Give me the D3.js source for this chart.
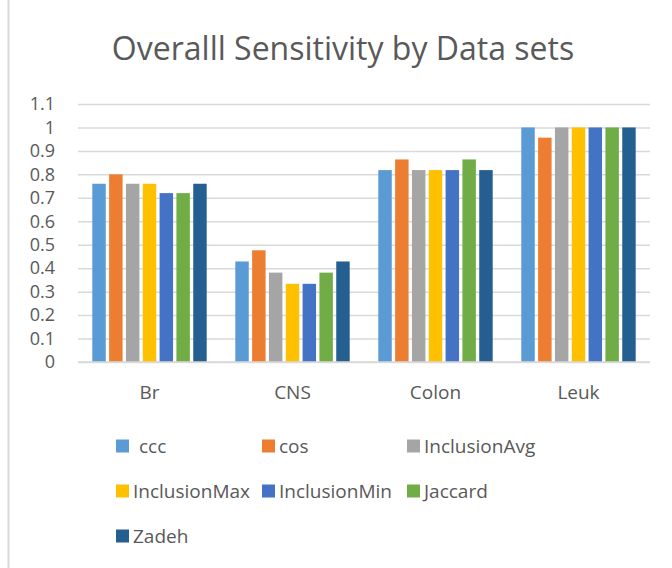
<!DOCTYPE html>
<html>
<head>
<meta charset="utf-8">
<script src="https://cdn.jsdelivr.net/npm/d3@7"></script>
<style>
  body { margin: 0; background: #fff; }
  text { font-family: "Open Sans", "Noto Sans", sans-serif; fill: #595959; }
</style>
</head>
<body>
<div id="chart"></div>
<script>
const datasets = ["Br", "CNS", "Colon", "Leuk"];
const measures = ["ccc", "cos", "InclusionAvg", "InclusionMax", "InclusionMin", "Jaccard", "Zadeh"];
const colors = ["#5B9BD5", "#ED7D31", "#A5A5A5", "#FFC000", "#4472C4", "#70AD47", "#255E91"];

// one array per data set, in measure order
const brVals    = [0.76, 0.80, 0.76, 0.76, 0.72, 0.72, 0.76];
const cnsVals   = [0.4286, 0.4762, 0.381, 0.3333, 0.3333, 0.381, 0.4286];
const colonVals = [0.8182, 0.8636, 0.8182, 0.8182, 0.8182, 0.8636, 0.8182];
const leukVals  = [1, 0.9565, 1, 1, 1, 1, 1];
const yTicks = [0, 0.1, 0.2, 0.3, 0.4, 0.5, 0.6, 0.7, 0.8, 0.9, 1, 1.1];

const valuesByDataset = [brVals, cnsVals, colonVals, leukVals];
const data = datasets.map((ds, i) => ({
  name: ds,
  values: measures.map((m, j) => ({ key: m, value: valuesByDataset[i][j] }))
}));

const W = 672, H = 568;
const margin = {top: 104, right: 22, bottom: 206, left: 78};

const svg = d3.select("#chart").append("svg")
    .attr("width", W).attr("height", H);

// thin frame line on the left, as in the exported image
svg.append("line")
    .attr("x1", 8.5).attr("x2", 8.5).attr("y1", 0).attr("y2", H)
    .attr("stroke", "#d9d9d9").attr("stroke-width", 2);

svg.append("text")
    .attr("x", 343).attr("y", 60)
    .attr("text-anchor", "middle")
    .style("font-size", "32px")
    .text("Overalll Sensitivity by Data sets");

const x0 = d3.scaleBand().domain(datasets)
    .range([margin.left, W - margin.right])
    .paddingInner(0.2).paddingOuter(0.1);
const x1 = d3.scaleBand().domain(measures)
    .range([0, x0.bandwidth()])
    .paddingInner(0.2);
const y = d3.scaleLinear().domain([0, 1.1]).range([H - margin.bottom, margin.top]);
const color = d3.scaleOrdinal().domain(measures).range(colors);

// gridlines
const yAxis = svg.append("g")
    .attr("transform", `translate(${margin.left},0)`)
    .call(d3.axisLeft(y).tickValues(yTicks).tickSize(-(W - margin.left - margin.right)).tickFormat(d3.format("~g")));
yAxis.select(".domain").remove();
yAxis.selectAll(".tick line").attr("stroke", "#d9d9d9").attr("stroke-width", 1.5);
yAxis.selectAll(".tick text")
    .attr("x", -23)
    .style("font-size", "18px").attr("fill", "#595959");

// bars
svg.append("g").selectAll("g")
  .data(data)
  .join("g")
    .attr("transform", d => `translate(${x0(d.name)},0)`)
  .selectAll("rect")
  .data(d => d.values)
  .join("rect")
    .attr("x", d => x1(d.key))
    .attr("y", d => y(d.value))
    .attr("width", x1.bandwidth())
    .attr("height", d => y(0) - y(d.value))
    .attr("fill", d => color(d.key));

// baseline
svg.append("line")
    .attr("x1", margin.left).attr("x2", W - margin.right)
    .attr("y1", y(0)).attr("y2", y(0))
    .attr("stroke", "#d9d9d9").attr("stroke-width", 1.5);

// category labels
svg.append("g").selectAll("text")
  .data(datasets)
  .join("text")
    .attr("x", d => x0(d) + x0.bandwidth() / 2)
    .attr("y", 399)
    .attr("text-anchor", "middle")
    .style("font-size", "19px")
    .text(d => d);

// legend, three columns
const legendCols = [116, 262, 407];
const legendRows = [446, 491, 536];
const legend = svg.append("g").selectAll("g")
  .data(measures)
  .join("g")
    .attr("transform", (d, i) => `translate(${legendCols[i % 3]},${legendRows[Math.floor(i / 3)]})`);
legend.append("rect")
    .attr("x", 0).attr("y", -6.5)
    .attr("width", 13).attr("height", 13)
    .attr("fill", d => color(d));
legend.append("text")
    .attr("x", d => d === "ccc" ? 23 : 17)
    .attr("y", 7)
    .style("font-size", "19px")
    .text(d => d);
</script>
</body>
</html>
